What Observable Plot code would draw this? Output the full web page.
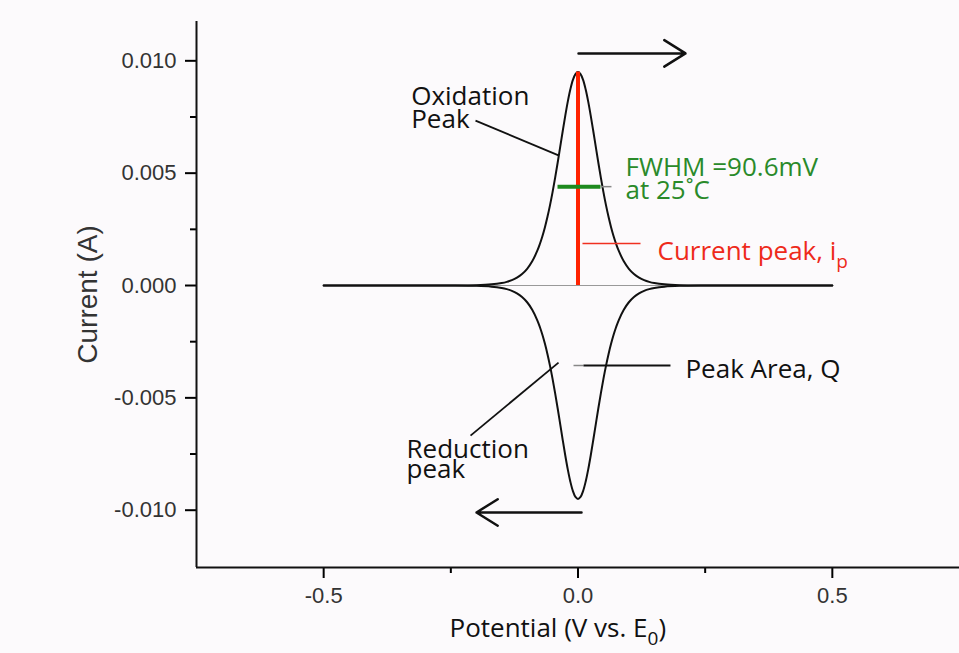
<!DOCTYPE html>
<html><head><meta charset="utf-8">
<script src="https://cdn.jsdelivr.net/npm/d3@7"></script>
<script src="https://cdn.jsdelivr.net/npm/@observablehq/plot@0.6"></script>
<style>
html,body{margin:0;padding:0;background:#fcfafc;}
#chart{width:959px;height:653px;overflow:hidden;}
</style></head><body><div id="chart"></div>
<script>
// Potential (V vs. E0) sample points
const potential = [-0.5,-0.3,-0.25,-0.2,-0.17,-0.15,-0.14,-0.13,-0.12,-0.11,-0.1,-0.09,-0.08,-0.075,-0.07,-0.065,-0.06,-0.055,-0.05,-0.045,-0.04,-0.035,-0.03,-0.025,-0.02,-0.015,-0.01,-0.005,0,0.005,0.01,0.015,0.02,0.025,0.03,0.035,0.04,0.045,0.05,0.055,0.06,0.065,0.07,0.075,0.08,0.09,0.1,0.11,0.12,0.13,0.14,0.15,0.17,0.2,0.25,0.3,0.5];
// Oxidation (forward) scan current, A
const oxidationCurrent = [0,0,0.000002,0.000016,0.000051,0.000110,0.000162,0.000238,0.000349,0.000511,0.000745,0.001078,0.001548,0.001847,0.002195,0.002597,0.003057,0.003577,0.004156,0.004788,0.005464,0.006168,0.006877,0.007564,0.008195,0.008734,0.009149,0.009411,0.0095,0.009411,0.009149,0.008734,0.008195,0.007564,0.006877,0.006168,0.005464,0.004788,0.004156,0.003577,0.003057,0.002597,0.002195,0.001847,0.001548,0.001078,0.000745,0.000511,0.000349,0.000238,0.000162,0.000110,0.000051,0.000016,0.000002,0,0];
// Reduction (reverse) scan current, A
const reductionCurrent = [0,0,-0.000002,-0.000016,-0.000051,-0.000110,-0.000162,-0.000238,-0.000349,-0.000511,-0.000745,-0.001078,-0.001548,-0.001847,-0.002195,-0.002597,-0.003057,-0.003577,-0.004156,-0.004788,-0.005464,-0.006168,-0.006877,-0.007564,-0.008195,-0.008734,-0.009149,-0.009411,-0.0095,-0.009411,-0.009149,-0.008734,-0.008195,-0.007564,-0.006877,-0.006168,-0.005464,-0.004788,-0.004156,-0.003577,-0.003057,-0.002597,-0.002195,-0.001847,-0.001548,-0.001078,-0.000745,-0.000511,-0.000349,-0.000238,-0.000162,-0.000110,-0.000051,-0.000016,-0.000002,0,0];

const xTicks = [-0.5, 0, 0.5];
const xMinorTicks = [-0.25, 0.25];
const yTicks = [-0.01, -0.005, 0, 0.005, 0.01];
const yMinorTicks = [-0.0075, -0.0025, 0.0025, 0.0075];
const xDomain = [-0.75, 0.75];
const yDomain = [-0.01255, 0.01175];

// peak / FWHM readings
const peakPotential = [0];
const peakCurrent = [0.0095];
const fwhmBar = [{x1: -0.0403, x2: 0.0442, y: 0.0044}];

// scan direction arrows
const scanArrows = [
  {x1: 0.001, y1: 0.01033, x2: 0.2113, y2: 0.01033},
  {x1: 0.0069, y1: -0.0101, x2: -0.1995, y2: -0.0101}
];
// annotation leader lines
const blackLeaders = [
  {x1: -0.2015, y1: 0.00734, x2: -0.0383, y2: 0.00579},
  {x1: -0.2113, y1: -0.00668, x2: -0.0383, y2: -0.00343},
  {x1: 0.0108, y1: -0.00356, x2: 0.1818, y2: -0.00356}
];
const grayLeaders = [
  {x1: -0.0088, y1: -0.00356, x2: 0.0108, y2: -0.00356},
  {x1: 0.0442, y1: 0.0044, x2: 0.0658, y2: 0.0044}
];
const redLeaders = [{x1: 0.0088, y1: 0.00187, x2: 0.1229, y2: 0.00187}];

const blackNotes = [
  {text: "Oxidation\nPeak", x: -0.3279, y: 0.00783},
  {text: "Peak Area, Q", x: 0.2113, y: -0.00379}
];
const reductionNote = [{text: "Reduction\npeak", x: -0.3371, y: -0.00784}];
const greenNote = [{text: "FWHM =90.6mV\nat 25˚C", x: 0.0934, y: 0.00469}];
const redNote = [{text: "Current peak, i_{p}", x: 0.1563, y: 0.00151}];

const rows = [];
potential.forEach((p, i) => rows.push({potential: p, current: oxidationCurrent[i], scan: "oxidation"}));
potential.forEach((p, i) => rows.push({potential: p, current: reductionCurrent[i], scan: "reduction"}));

const annFont = "'Open Sans', Lato, sans-serif";
const axFont = "'Liberation Sans', Arial, sans-serif";
const annSize = 26;

const plot = Plot.plot({
  width: 959, height: 653,
  marginLeft: 196, marginRight: 0, marginTop: 21, marginBottom: 86,
  style: {background: "#fcfafc", overflow: "visible"},
  x: {domain: xDomain, label: null},
  y: {domain: yDomain, label: null},
  marks: [
    Plot.axisY({ticks: yTicks, tickSize: 11, tickPadding: 9, stroke: "#000", strokeOpacity: 1, strokeWidth: 2, fill: "#333", fontSize: 22, fontFamily: axFont, tickFormat: d => d.toFixed(3), label: null}),
    Plot.axisY({ticks: yMinorTicks, tickSize: 6, stroke: "#000", strokeOpacity: 1, strokeWidth: 2, tickFormat: () => "", label: null}),
    Plot.axisX({ticks: xTicks, tickSize: 11, tickPadding: 9, stroke: "#000", strokeOpacity: 1, strokeWidth: 2, fill: "#333", fontSize: 22, fontFamily: axFont, tickFormat: d => d.toFixed(1), label: null}),
    Plot.axisX({ticks: xMinorTicks, tickSize: 6, stroke: "#000", strokeOpacity: 1, strokeWidth: 2, tickFormat: () => "", label: null}),
    Plot.ruleX([xDomain[0]], {stroke: "#111", strokeWidth: 2}),
    Plot.ruleY([yDomain[0]], {stroke: "#111", strokeWidth: 2}),
    Plot.ruleY([0], {x1: potential[0], x2: potential[potential.length - 1], stroke: "#999", strokeWidth: 1}),
    Plot.line(rows, {x: "potential", y: "current", z: "scan", stroke: "#111", strokeWidth: 2, curve: "catmull-rom"}),
    Plot.ruleX(peakPotential, {y1: 0, y2: peakCurrent[0], stroke: "#ff2200", strokeWidth: 4}),
    Plot.link(fwhmBar, {x1: "x1", x2: "x2", y1: "y", y2: "y", stroke: "#1e8a1e", strokeWidth: 4}),
    Plot.link(grayLeaders, {x1: "x1", y1: "y1", x2: "x2", y2: "y2", stroke: "#888", strokeWidth: 1.5}),
    Plot.link(blackLeaders, {x1: "x1", y1: "y1", x2: "x2", y2: "y2", stroke: "#111", strokeWidth: 1.8}),
    Plot.link(redLeaders, {x1: "x1", y1: "y1", x2: "x2", y2: "y2", stroke: "#f03020", strokeWidth: 1.5}),
    Plot.arrow(scanArrows, {x1: "x1", y1: "y1", x2: "x2", y2: "y2", stroke: "#111", strokeWidth: 2.5, headLength: 15, headAngle: 64}),
    Plot.text(blackNotes, {x: "x", y: "y", text: "text", textAnchor: "start", lineHeight: 0.88, fontSize: annSize, fontFamily: annFont, fill: "#111"}),
    Plot.text(reductionNote, {x: "x", y: "y", text: "text", textAnchor: "start", lineHeight: 0.76, fontSize: annSize, fontFamily: annFont, fill: "#111"}),
    Plot.text(greenNote, {x: "x", y: "y", text: "text", textAnchor: "start", lineHeight: 0.89, fontSize: annSize, fontFamily: annFont, fill: "#2a8a2a"}),
    Plot.text(redNote, {x: "x", y: "y", text: "text", textAnchor: "start", fontSize: annSize, fontFamily: annFont, fill: "#ee2a1a"}),
    Plot.text(["Current (A)"], {frameAnchor: "left", textAnchor: "middle", dx: -108, rotate: -90, fontSize: 28, fontFamily: axFont, fill: "#333"}),
    Plot.text(["Potential (V vs. E_{0})"], {frameAnchor: "bottom-left", dx: 253, dy: 69, textAnchor: "start", fontSize: annSize, fontFamily: annFont, fill: "#111"})
  ]
});

// render subscripts as tspans
d3.select(plot).selectAll("text").each(function() {
  const t = this.textContent;
  const m = t.match(/^(.*)_\{(.*?)\}(.*)$/);
  if (!m) return;
  const el = d3.select(this);
  el.text(null);
  el.append("tspan").text(m[1]);
  el.append("tspan").attr("dy", 8).attr("font-size", 19).text(m[2]);
  if (m[3]) el.append("tspan").attr("dy", -8).text(m[3]);
});

document.getElementById("chart").append(plot);
</script></body></html>
